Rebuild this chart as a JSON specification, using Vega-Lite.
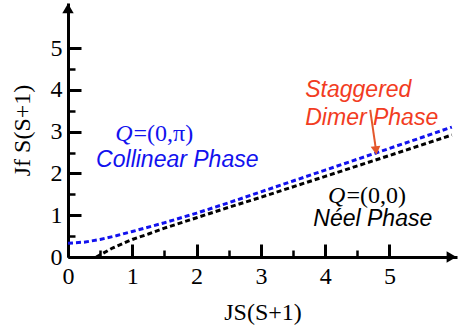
{
  "$schema": "https://vega.github.io/schema/vega-lite/v6.json",
  "width": 389,
  "height": 254,
  "autosize": {"type": "none"},
  "padding": {"left": 68, "top": 3, "right": 4, "bottom": 68},
  "background": "white",
  "config": {
    "view": {"stroke": null},
    "axis": {"grid": false}
  },
  "resolve": {"axis": {"x": "independent", "y": "independent"}},
  "layer": [
    {
      "data": {"values": [
        {"boundary": "collinear", "x": 0, "y": 0.33},
        {"boundary": "collinear", "x": 0.25, "y": 0.355},
        {"boundary": "collinear", "x": 0.5, "y": 0.42},
        {"boundary": "collinear", "x": 0.75, "y": 0.51},
        {"boundary": "collinear", "x": 1, "y": 0.61},
        {"boundary": "collinear", "x": 1.5, "y": 0.82},
        {"boundary": "collinear", "x": 2, "y": 1.05},
        {"boundary": "collinear", "x": 2.5, "y": 1.3},
        {"boundary": "collinear", "x": 3, "y": 1.56},
        {"boundary": "collinear", "x": 3.5, "y": 1.82},
        {"boundary": "collinear", "x": 4, "y": 2.08},
        {"boundary": "collinear", "x": 4.5, "y": 2.34},
        {"boundary": "collinear", "x": 5, "y": 2.6},
        {"boundary": "collinear", "x": 5.5, "y": 2.86},
        {"boundary": "collinear", "x": 5.97, "y": 3.11},
        {"boundary": "neel", "x": 0.44, "y": 0},
        {"boundary": "neel", "x": 0.7, "y": 0.22},
        {"boundary": "neel", "x": 1, "y": 0.42},
        {"boundary": "neel", "x": 1.25, "y": 0.55},
        {"boundary": "neel", "x": 1.5, "y": 0.69},
        {"boundary": "neel", "x": 2, "y": 0.94},
        {"boundary": "neel", "x": 2.5, "y": 1.19},
        {"boundary": "neel", "x": 3, "y": 1.43},
        {"boundary": "neel", "x": 4, "y": 1.93},
        {"boundary": "neel", "x": 5, "y": 2.43},
        {"boundary": "neel", "x": 5.97, "y": 2.92}
      ]},
      "mark": {"type": "line", "strokeWidth": 3, "strokeDash": [5, 3]},
      "encoding": {
        "x": {"field": "x", "type": "quantitative",
          "scale": {"domain": [0, 6.05], "nice": false, "zero": false},
          "axis": {"orient": "bottom", "values": [0, 1, 2, 3, 4, 5], "tickSize": -13, "tickWidth": 3, "tickColor": "black",
            "domainColor": "black", "domainWidth": 3,
            "labelFont": "Liberation Serif", "labelFontSize": 24, "labelColor": "black", "labelFlush": false, "labelOverlap": false, "labelPadding": 20,
            "title": "JS(S+1)", "titleFont": "Liberation Serif", "titleFontSize": 24, "titleFontWeight": "normal", "titleColor": "black", "titlePadding": 12}},
        "y": {"field": "y", "type": "quantitative",
          "scale": {"domain": [0, 6.08], "nice": false, "zero": false},
          "axis": {"orient": "left", "values": [0, 1, 2, 3, 4, 5], "tickSize": -13, "tickWidth": 3, "tickColor": "black",
            "domainColor": "black", "domainWidth": 3,
            "labelFont": "Liberation Serif", "labelFontSize": 24, "labelColor": "black", "labelFlush": false, "labelOverlap": false, "labelPadding": 19,
            "title": "Jf S(S+1)", "titleFont": "Liberation Serif", "titleFontSize": 24, "titleFontWeight": "normal", "titleColor": "black", "titlePadding": 16}},
        "color": {"field": "boundary", "type": "nominal",
          "scale": {"domain": ["collinear", "neel"], "range": ["#1212ee", "#000000"]}, "legend": null},
        "detail": {"field": "boundary"}
      }
    },
    {
      "data": {"values": [
        {"dir": "right", "x": 5.965, "y": 0},
        {"dir": "up", "x": 0, "y": 5.95}
      ]},
      "mark": {"type": "point", "filled": true, "opacity": 1, "size": 130, "color": "black", "clip": false},
      "encoding": {
        "x": {"field": "x", "type": "quantitative",
          "axis": {"orient": "bottom", "values": [0.5, 1.5, 2.5, 3.5, 4.5], "labels": false, "domain": false, "tickSize": -7, "tickWidth": 2.5, "tickColor": "black", "title": null}},
        "y": {"field": "y", "type": "quantitative",
          "axis": {"orient": "left", "values": [0.5, 1.5, 2.5, 3.5, 4.5], "labels": false, "domain": false, "tickSize": -7, "tickWidth": 2.5, "tickColor": "black", "title": null}},
        "shape": {"field": "dir", "type": "nominal",
          "scale": {"domain": ["right", "up"], "range": ["triangle-right", "triangle-up"]}, "legend": null}
      }
    },
    {
      "data": {"values": [
        {"phase": "collinear", "label": "Q", "x": 1.005, "y": 2.78},
        {"phase": "neel", "label": "Q", "x": 4.315, "y": 1.29}
      ]},
      "mark": {"type": "text", "font": "Liberation Serif", "fontSize": 24, "fontStyle": "italic", "align": "right", "baseline": "alphabetic"},
      "encoding": {
        "x": {"field": "x", "type": "quantitative", "axis": null},
        "y": {"field": "y", "type": "quantitative", "axis": null},
        "text": {"field": "label"},
        "color": {"field": "phase", "type": "nominal",
          "scale": {"domain": ["collinear", "neel"], "range": ["#4343ee", "#000000"]}, "legend": null}
      }
    },
    {
      "data": {"values": [
        {"phase": "collinear", "label": "=(0,π)", "x": 1.02, "y": 2.78},
        {"phase": "neel", "label": "=(0,0)", "x": 4.33, "y": 1.29}
      ]},
      "mark": {"type": "text", "font": "Liberation Serif", "fontSize": 24, "align": "left", "baseline": "alphabetic"},
      "encoding": {
        "x": {"field": "x", "type": "quantitative", "axis": null},
        "y": {"field": "y", "type": "quantitative", "axis": null},
        "text": {"field": "label"},
        "color": {"field": "phase", "type": "nominal",
          "scale": {"domain": ["collinear", "neel"], "range": ["#4343ee", "#000000"]}, "legend": null}
      }
    },
    {
      "data": {"values": [
        {"phase": "collinear", "label": "Collinear Phase", "x": 1.70, "y": 2.16},
        {"phase": "neel", "label": "Néel Phase", "x": 4.74, "y": 0.74}
      ]},
      "mark": {"type": "text", "font": "Liberation Sans", "fontSize": 23, "fontStyle": "italic", "align": "center", "baseline": "alphabetic"},
      "encoding": {
        "x": {"field": "x", "type": "quantitative", "axis": null},
        "y": {"field": "y", "type": "quantitative", "axis": null},
        "text": {"field": "label"},
        "color": {"field": "phase", "type": "nominal",
          "scale": {"domain": ["collinear", "neel"], "range": ["#4343ee", "#000000"]}, "legend": null}
      }
    },
    {
      "data": {"values": [
        {"label": "Staggered", "x": 3.69, "y": 3.83},
        {"label": "Dimer Phase", "x": 3.69, "y": 3.15}
      ]},
      "mark": {"type": "text", "font": "Liberation Sans", "fontSize": 23, "fontStyle": "italic", "align": "left", "baseline": "alphabetic", "color": "#f23c22"},
      "encoding": {
        "x": {"field": "x", "type": "quantitative", "axis": null},
        "y": {"field": "y", "type": "quantitative", "axis": null},
        "text": {"field": "label"}
      }
    },
    {
      "data": {"values": [
        {"x": 4.70, "y": 3.52, "x2": 4.785, "y2": 2.62}
      ]},
      "mark": {"type": "rule", "strokeWidth": 2, "color": "#e4572c"},
      "encoding": {
        "x": {"field": "x", "type": "quantitative", "axis": null},
        "y": {"field": "y", "type": "quantitative", "axis": null},
        "x2": {"field": "x2"},
        "y2": {"field": "y2"}
      }
    },
    {
      "data": {"values": [
        {"x": 4.79, "y": 2.55}
      ]},
      "mark": {"type": "point", "shape": "triangle-down", "angle": 354, "filled": true, "opacity": 1, "size": 95, "color": "#e4572c"},
      "encoding": {
        "x": {"field": "x", "type": "quantitative", "axis": null},
        "y": {"field": "y", "type": "quantitative", "axis": null}
      }
    }
  ]
}
